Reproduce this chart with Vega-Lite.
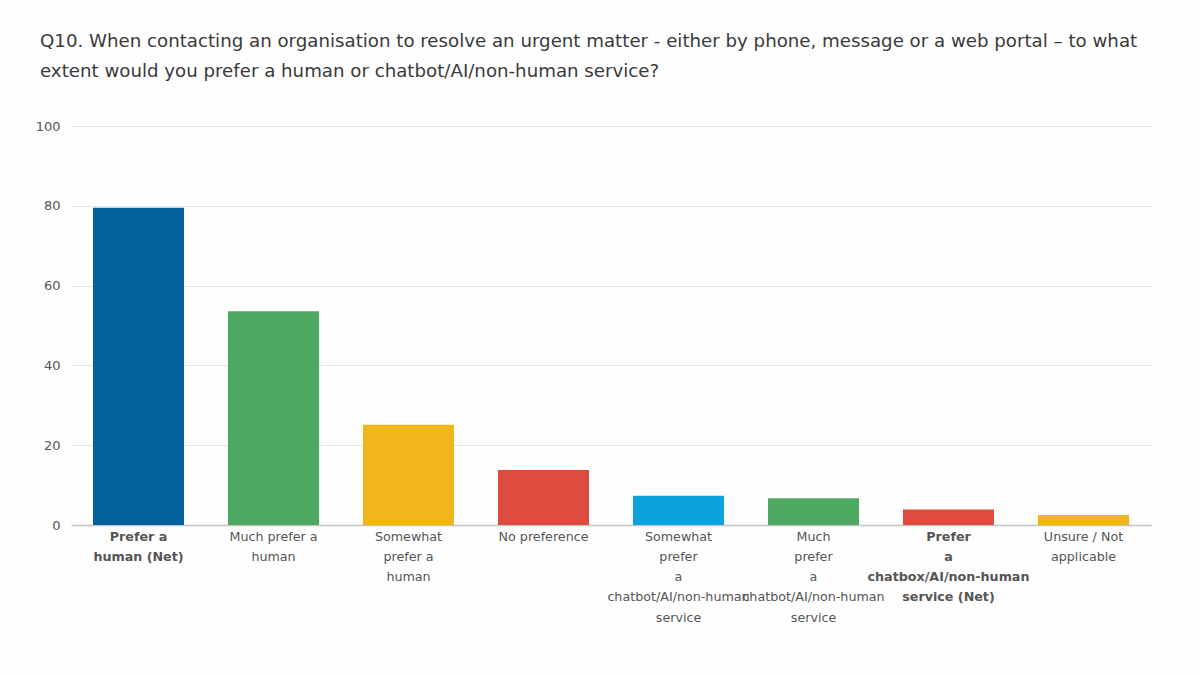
{
  "$schema": "https://vega.github.io/schema/vega-lite/v6.json",
  "width": 1080,
  "height": 399,
  "autosize": "none",
  "padding": {"left": 71, "top": 126, "right": 49, "bottom": 150},
  "background": "#fefefe",
  "title": {
    "text": ["Q10. When contacting an organisation to resolve an urgent matter - either by phone, message or a web portal – to what", "extent would you prefer a human or chatbot/AI/non-human service?"],
    "anchor": "start",
    "frame": "group",
    "dx": -31,
    "offset": 39,
    "font": "DejaVu Sans",
    "fontSize": 18.2,
    "fontWeight": "normal",
    "color": "#3a3a3a",
    "lineHeight": 30
  },
  "data": {
    "values": [
      {"category": "Prefer a human (Net)", "value": 79.5, "group": "net_human"},
      {"category": "Much prefer a human", "value": 53.6, "group": "much_human"},
      {"category": "Somewhat prefer a human", "value": 25.1, "group": "somewhat_human"},
      {"category": "No preference", "value": 13.8, "group": "none"},
      {"category": "Somewhat prefer a chatbot/AI/non-human service", "value": 7.3, "group": "somewhat_bot"},
      {"category": "Much prefer a chatbot/AI/non-human service", "value": 6.7, "group": "much_bot"},
      {"category": "Prefer a chatbox/AI/non-human service (Net)", "value": 3.9, "group": "net_bot"},
      {"category": "Unsure / Not applicable", "value": 2.5, "group": "unsure"}
    ]
  },
  "mark": {"type": "bar"},
  "encoding": {
    "x": {
      "field": "category",
      "type": "nominal",
      "sort": null,
      "scale": {"paddingInner": 0.326, "paddingOuter": 0.163},
      "axis": {
        "title": null,
        "labelAngle": 0,
        "labelFont": "DejaVu Sans",
        "labelFontSize": 12.7,
        "labelColor": "#555555",
        "labelPadding": 5,
        "labelLineHeight": 20.3,
        "labelBaseline": "top",
        "labelLimit": 300,
        "labelOverlap": false,
        "labelFontWeight": {"condition": {"test": "indexof(datum.value, '(Net)') >= 0", "value": "bold"}, "value": "normal"},
        "labelExpr": "datum.value == 'Prefer a human (Net)' ? ['Prefer a', 'human (Net)'] : datum.value == 'Much prefer a human' ? ['Much prefer a', 'human'] : datum.value == 'Somewhat prefer a human' ? ['Somewhat', 'prefer a', 'human'] : datum.value == 'Somewhat prefer a chatbot/AI/non-human service' ? ['Somewhat', 'prefer', 'a', 'chatbot/AI/non-human', 'service'] : datum.value == 'Much prefer a chatbot/AI/non-human service' ? ['Much', 'prefer', 'a', 'chatbot/AI/non-human', 'service'] : datum.value == 'Prefer a chatbox/AI/non-human service (Net)' ? ['Prefer', 'a', 'chatbox/AI/non-human', 'service (Net)'] : datum.value == 'Unsure / Not applicable' ? ['Unsure / Not', 'applicable'] : datum.label",
        "ticks": false,
        "domainColor": "#c4c4c4",
        "domainWidth": 1.5,
        "grid": false
      }
    },
    "y": {
      "field": "value",
      "type": "quantitative",
      "scale": {"domain": [0, 100]},
      "axis": {
        "title": null,
        "values": [0, 20, 40, 60, 80, 100],
        "labelFont": "DejaVu Sans",
        "labelFontSize": 13,
        "labelColor": "#555555",
        "labelPadding": 11,
        "ticks": false,
        "domain": false,
        "gridColor": "#e6e6e6",
        "gridWidth": 1
      }
    },
    "color": {
      "field": "group",
      "type": "nominal",
      "legend": null,
      "scale": {
        "domain": ["net_human", "much_human", "somewhat_human", "none", "somewhat_bot", "much_bot", "net_bot", "unsure"],
        "range": ["#02609a", "#4fa862", "#f1b61a", "#df4c3d", "#0ca2dc", "#4fa862", "#df4c3d", "#f1b61a"]
      }
    }
  },
  "config": {"view": {"stroke": null}}
}
